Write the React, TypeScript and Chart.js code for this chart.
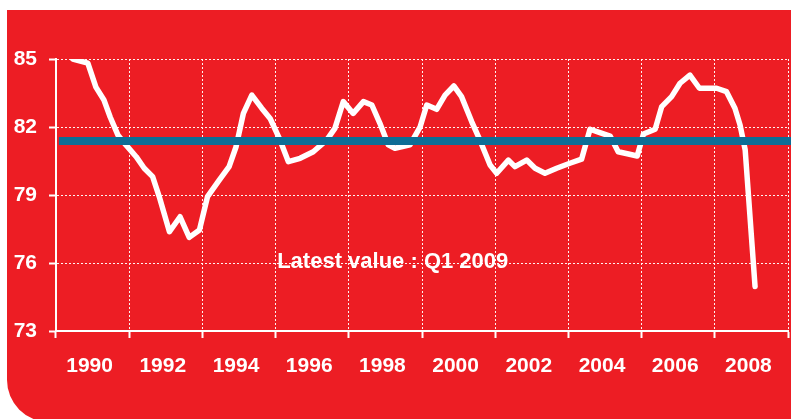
import React, { useEffect, useRef } from "react";
import { Chart, registerables } from "chart.js";

Chart.register(...registerables);

const xLabels = ["1990", "1992", "1994", "1996", "1998", "2000", "2002", "2004", "2006", "2008"];
const yTickValues = [73, 76, 79, 82, 85];

const years = [
  1990.46, 1990.87, 1991.09, 1991.31, 1991.48, 1991.69, 1991.91, 1992.19, 1992.41, 1992.64,
  1992.82, 1993.1, 1993.39, 1993.64, 1993.92, 1994.14, 1994.46, 1994.73, 1994.92, 1995.12,
  1995.35, 1995.62, 1995.85, 1996.12, 1996.35, 1996.67, 1997.03, 1997.4, 1997.62, 1997.85,
  1998.12, 1998.4, 1998.63, 1998.85, 1999.08, 1999.26, 1999.67, 1999.95, 2000.13, 2000.4,
  2000.63, 2000.87, 2001.08, 2001.36, 2001.58, 2001.86, 2002.04, 2002.36, 2002.54, 2002.86,
  2003.09, 2003.36, 2003.68, 2004.04, 2004.36, 2004.59, 2004.86, 2005.14, 2005.36, 2005.64,
  2005.88, 2006.05, 2006.37, 2006.55, 2006.82, 2007.05, 2007.32, 2007.58, 2008.05, 2008.32,
  2008.55, 2008.69, 2008.83, 2009.1,
];
const values = [
  85.0, 84.82, 83.76, 83.19, 82.44, 81.65, 81.21, 80.69, 80.18, 79.81,
  78.93, 77.38, 78.04, 77.13, 77.46, 78.93, 79.66, 80.25, 81.13, 82.6,
  83.41, 82.83, 82.38, 81.43, 80.47, 80.62, 80.91, 81.43, 81.94, 83.12,
  82.6, 83.12, 82.97, 82.16, 81.21, 81.06, 81.21, 82.01, 82.97, 82.78,
  83.41, 83.81, 83.34, 82.23, 81.43, 80.32, 79.96, 80.54, 80.25, 80.54,
  80.18, 79.96, 80.18, 80.4, 80.58, 81.9, 81.75, 81.6, 80.91, 80.81,
  80.72, 81.69, 81.9, 82.9, 83.34, 83.93, 84.29, 83.71, 83.71, 83.56,
  82.83, 82.09, 80.99, 74.96,
];

const averageValue = 81.38;
const averageYears = [1990.08, 2010.1];

const noteText = "Latest value : Q1 2009";
const noteYear = 1999.2;
const noteValue = 76.05;

const RED = "#ED1D24";
const BLUE = "#0E6D96";
const FONT = "'Liberation Sans', Arial, sans-serif";

const notePlugin = {
  id: "notePlugin",
  afterDatasetsDraw(chart: any) {
    const { ctx, scales } = chart;
    const x = scales.x.getPixelForValue(noteYear);
    const y = scales.y.getPixelForValue(noteValue);
    ctx.save();
    ctx.fillStyle = "#ffffff";
    ctx.font = "bold 22px 'Liberation Sans', Arial, sans-serif";
    ctx.textAlign = "center";
    ctx.textBaseline = "middle";
    ctx.fillText(noteText, x, y);
    ctx.restore();
  },
};

export default function App() {
  const canvasRef = useRef<HTMLCanvasElement | null>(null);

  useEffect(() => {
    if (!canvasRef.current) return;
    const chart = new Chart(canvasRef.current, {
      type: "line",
      data: {
        datasets: [
          {
            label: "Average",
            data: averageYears.map((yr) => ({ x: yr, y: averageValue })),
            borderColor: BLUE,
            borderWidth: 8,
            pointRadius: 0,
            borderCapStyle: "butt",
            clip: false as any,
          },
          {
            label: "Index",
            data: years.map((yr, i) => ({ x: yr, y: values[i] })),
            borderColor: "#ffffff",
            borderWidth: 5.5,
            pointRadius: 0,
            tension: 0,
            borderJoinStyle: "round",
            borderCapStyle: "round",
          },
        ],
      },
      options: {
        animation: false,
        responsive: false,
        maintainAspectRatio: false,
        layout: { padding: { top: 59, right: 3, bottom: 0, left: 0 } },
        plugins: { legend: { display: false }, tooltip: { enabled: false } },
        scales: {
          x: {
            type: "linear",
            min: 1990,
            max: 2010,
            display: false,
          },
          xCat: {
            type: "category",
            position: "bottom",
            labels: xLabels,
            offset: true,
            grid: {
              offset: true,
              color: "rgba(255,255,255,0.95)",
              lineWidth: 1,
              drawTicks: true,
              tickLength: 7,
              tickColor: "#ffffff",
              tickWidth: 2,
              tickBorderDash: [],
            },
            border: { display: true, color: "#ffffff", width: 2, dash: [2, 2] },
            ticks: {
              color: "#ffffff",
              font: { family: FONT, size: 21, weight: "bold" },
              padding: 16,
              labelOffset: -3,
              maxRotation: 0,
              autoSkip: false,
            },
            afterFit: (scale: any) => {
              scale.height = 88;
            },
          } as any,
          y: {
            type: "linear",
            min: 73,
            max: 85,
            afterBuildTicks: (scale: any) => {
              scale.ticks = yTickValues.map((v) => ({ value: v }));
            },
            grid: {
              color: "rgba(255,255,255,0.95)",
              lineWidth: 1,
              drawTicks: true,
              tickLength: 7,
              tickColor: "#ffffff",
              tickWidth: 2,
              tickBorderDash: [],
            },
            border: { display: true, color: "#ffffff", width: 2, dash: [2, 2] },
            ticks: {
              color: "#ffffff",
              font: { family: FONT, size: 21, weight: "bold" },
              padding: 12,
            },
            afterFit: (scale: any) => {
              scale.width = 56;
            },
          } as any,
        },
      },
      plugins: [notePlugin],
    });
    return () => chart.destroy();
  }, []);

  return (
    <div
      style={{
        position: "fixed",
        left: 0,
        top: 0,
        width: 791,
        height: 419,
        overflow: "hidden",
        background: "#ffffff",
      }}
    >
      <div
        style={{
          position: "absolute",
          left: 7,
          top: 10,
          width: 784,
          height: 412,
          background: RED,
          borderBottomLeftRadius: 42,
        }}
      />
      <canvas
        ref={canvasRef}
        width={791}
        height={419}
        style={{ position: "absolute", left: 0, top: 0, width: 791, height: 419 }}
      />
    </div>
  );
}
